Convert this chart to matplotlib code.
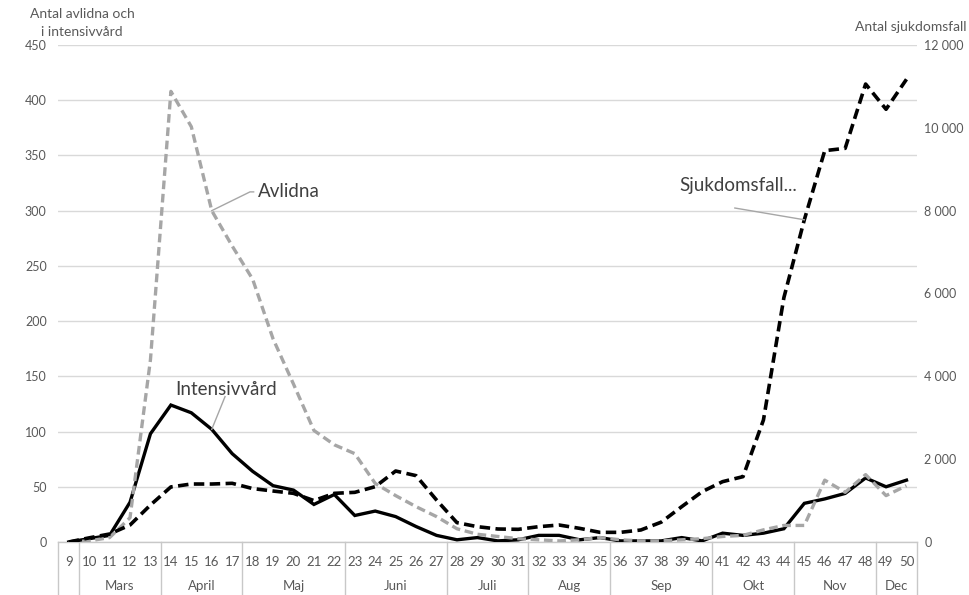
import matplotlib
matplotlib.use("Agg")
import matplotlib.pyplot as plt
from matplotlib.transforms import blended_transform_factory

plt.rcParams['font.family'] = ['Lato', 'DejaVu Sans']

weeks = list(range(9, 51))
months = ["", "Mars", "April", "Maj", "Juni", "Juli", "Aug", "Sep", "Okt", "Nov", "Dec"]
month_week_counts = [1, 4, 4, 5, 5, 4, 4, 5, 4, 4, 2]

avlidna = [0, 1, 4, 22, 165, 408, 376, 300, 268, 238, 184, 143, 101, 88, 80, 53,
           42, 32, 23, 12, 7, 5, 3, 2, 1, 2, 4, 2, 1, 1, 2, 3, 5, 6, 11, 15,
           15, 56, 45, 61, 42, 51]
intensivvard = [0, 3, 6, 36, 98, 124, 117, 102, 80, 64, 51, 47, 34, 43, 24, 28,
                23, 14, 6, 2, 4, 1, 2, 6, 6, 2, 4, 1, 1, 1, 4, 1, 8, 6, 8, 12,
                35, 39, 44, 58, 50, 56]
sjukdomsfall = [0, 100, 193, 410, 893, 1330, 1400, 1400, 1417, 1290, 1231, 1175,
                1000, 1175, 1199, 1336, 1714, 1602, 1014, 467, 370, 314, 306, 370,
                410, 330, 233, 233, 290, 480, 853, 1215, 1457, 1578, 2946, 5900,
                7780, 9449, 9505, 11058, 10448, 11172]

left_ticks = [0, 50, 100, 150, 200, 250, 300, 350, 400, 450]
right_ticks = [0, 2000, 4000, 6000, 8000, 10000, 12000]

TXT = '#595959'
GRID = '#d9d9d9'
SEP = '#c8c8c8'

fig = plt.figure(figsize=(9.7, 5.95), dpi=100)
ax = fig.add_axes([58.5 / 970, 1 - 542 / 595, (916.7 - 58.5) / 970, (542 - 45) / 595])
ax2 = ax.twinx()

x = list(range(len(weeks)))

ax.set_xlim(-0.5, len(weeks) - 0.5)
ax.set_ylim(0, 450)
ax2.set_ylim(0, 12000)

ax.set_yticks(left_ticks)
ax.set_yticklabels([str(v) for v in left_ticks])
ax2.set_yticks(right_ticks)
ax2.set_yticklabels([f"{v:,}".replace(",", " ") for v in right_ticks])

ax.grid(axis='y', color=GRID, linewidth=1.0)
ax.set_axisbelow(True)
for a in (ax, ax2):
    for s in a.spines.values():
        s.set_visible(False)
ax.spines['bottom'].set_visible(True)
ax.spines['bottom'].set_color(SEP)
ax.spines['bottom'].set_linewidth(1.0)

ax.tick_params(axis='y', length=0, pad=8.5, labelsize=9, labelcolor=TXT)
ax2.tick_params(axis='y', length=0, pad=5.5, labelsize=9, labelcolor=TXT)
ax.set_xticks(x)
ax.set_xticklabels([str(w) for w in weeks])
ax.tick_params(axis='x', length=0, pad=10, labelsize=9.5, labelcolor=TXT)

# lines
ax.plot(x, intensivvard, color='black', linewidth=2.4, solid_joinstyle='miter', zorder=3)
ax.plot(x, avlidna, color='#a6a6a6', linewidth=2.4, linestyle=(0, (2.6, 1.4)), zorder=4)
ax2.plot(x, sjukdomsfall, color='black', linewidth=2.6, linestyle=(0, (2.9, 1.5)), zorder=5)

# month group separators and labels
trans = blended_transform_factory(ax.transData, ax.transAxes)
bottom = -53 / 497
pos = -0.5
bounds = [pos]
for name, cnt in zip(months, month_week_counts):
    start = pos
    pos += cnt
    bounds.append(pos)
    if name:
        ax.text((start + pos) / 2, -44 / 497, name, transform=trans, ha='center', va='center',
                fontsize=9.5, color=TXT)
for b in bounds:
    ax.plot([b, b], [0, bottom], transform=trans, color=SEP, linewidth=1.0, clip_on=False)

# axis titles
fig.text(82 / 970, 1 - 14 / 595, "Antal avlidna och", ha='center', va='center', fontsize=10, color=TXT)
fig.text(82 / 970, 1 - 32 / 595, "i intensivvård", ha='center', va='center', fontsize=10, color=TXT)
fig.text(967 / 970, 1 - 27 / 595, "Antal sjukdomsfall", ha='right', va='center', fontsize=10, color=TXT)

# series labels with leader lines
LBL = '#404040'
LEAD = '#a6a6a6'
ax.plot([7, 8.87, 9.05], [avlidna[7], 317, 317], color=LEAD, linewidth=1.0, zorder=6)
ax.text(9.25, 317, "Avlidna", ha='left', va='center', fontsize=13.5, color=LBL, zorder=7)

ax.plot([7, 7.65], [intensivvard[7], 131.6], color=LEAD, linewidth=1.0, zorder=6)
ax.text(5.2, 138, "Intensivvård", ha='left', va='center', fontsize=13.5, color=LBL, zorder=7)

ax2.plot([32.6, 36], [8064, sjukdomsfall[36]], color=LEAD, linewidth=1.0, zorder=6)
ax2.text(29.9, (542 - 185) * 12000 / 497, "Sjukdomsfall...", ha='left', va='center',
         fontsize=13.5, color=LBL, zorder=7)

fig.savefig("out.png", dpi=100)
